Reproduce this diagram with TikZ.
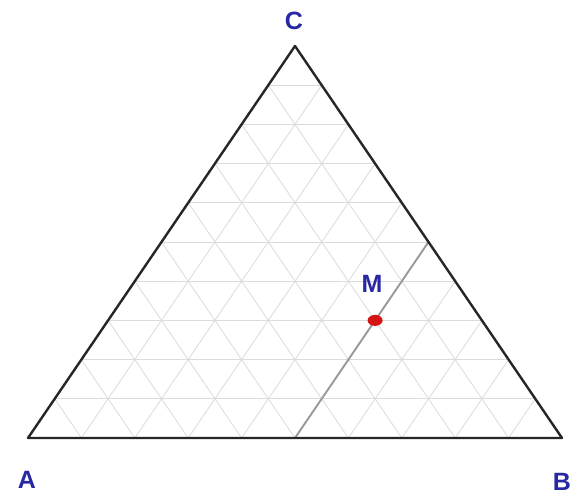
\documentclass[tikz,border=0pt]{standalone}
\usepackage{fontspec}
\setmainfont{Liberation Sans}
\usetikzlibrary{calc,positioning}

\definecolor{lblblue}{RGB}{40,40,165}
\definecolor{dotred}{RGB}{215,20,20}

\tikzset{
  edge/.style={line width=2.4pt, black!85, line join=round},
  gridline/.style={line width=0.8pt, gray!28},
  cut/.style={line width=1.9pt, gray!80},
  lbl/.style={lblblue, font=\fontsize{25}{25}\selectfont\bfseries, inner sep=0pt}
}

\begin{document}
\begin{tikzpicture}[x=1pt,y=1pt]
    \useasboundingbox (0,0) rectangle (576,497);
    \fill[white] (0,0) rectangle (576,497);
    % vertices
    \coordinate (A) at (28,59);
    \coordinate (B) at (562,59);
    \coordinate (C) at (295,451);
    % grid
    \foreach \k in {1,...,9} {
      \draw[gridline] ($(A)!\k/10!(C)$) -- ($(B)!\k/10!(C)$);
      \draw[gridline] ($(A)!\k/10!(B)$) -- ($(C)!\k/10!(B)$);
      \draw[gridline] ($(B)!\k/10!(A)$) -- ($(C)!\k/10!(A)$);
    }
    % line through M, parallel to AC
    \coordinate (P) at ($(A)!0.5!(B)$);
    \coordinate (Q) at ($(C)!0.5!(B)$);
    \draw[cut] (P) -- (Q);
    % triangle
    \draw[edge] (A) -- (B) -- (C) -- cycle;
    % point M
    \coordinate (M) at ($(P)!0.6!(Q)$);
    \fill[dotred] (M) ellipse (7.5pt and 5.5pt);
    \node[lbl] (labM) at ($(M)+(-3,36)$) {M};
    % labels
    \node[lbl] (labA) at (27,17) {A};
    \node[lbl] (labB) at (562,15) {B};
    \node[lbl] (labC) at (294,476) {C};
  \end{tikzpicture}
\end{document}
